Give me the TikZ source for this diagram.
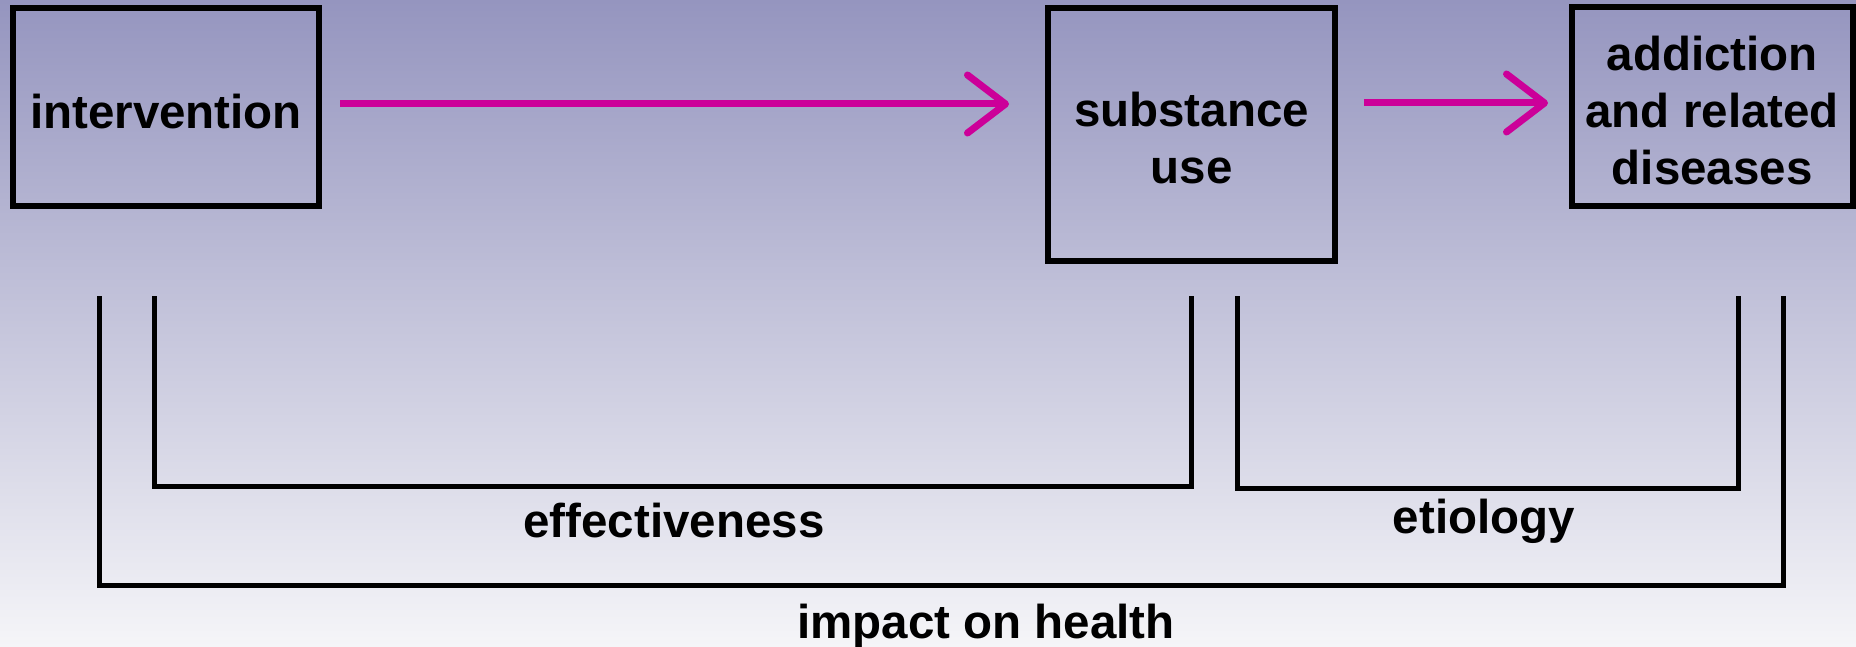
\documentclass[tikz,border=0pt]{standalone}
\usepackage{fontspec}
\setmainfont{Liberation Sans}
\usetikzlibrary{arrows.meta}
\definecolor{bgtop}{RGB}{149,149,191}
\definecolor{bgmid}{RGB}{212,212,229}
\definecolor{bgbot}{RGB}{245,245,248}
\definecolor{arrowmag}{RGB}{204,0,153}
\newcommand\firstlinefix{\rule{0pt}{42pt}}
\begin{document}
\begin{tikzpicture}[x=1pt,y=-1pt,
  txt/.style={font=\bfseries\fontsize{47.5}{57}\selectfont},
  box/.style={txt, draw=black, line width=6pt, align=center, inner sep=0pt},
  lbl/.style={txt, anchor=base, inner sep=0pt},
  flow/.style={draw=arrowmag, line width=7pt, -{Straight Barb[length=38pt,width=58pt,round]}},
  brk/.style={draw=black, line width=5pt, line join=miter}]
\useasboundingbox (0,0) rectangle (1856,647);
\shade[top color=bgtop, middle color=bgmid, bottom color=bgbot] (0,0) rectangle (1856,647);
% boxes
\node[box, minimum width=306pt, minimum height=198.5pt] (interv) at (166,107.25) {\firstlinefix intervention};
\node[box, minimum width=287pt, minimum height=253pt] (subst) at (1191.5,134.5) {\firstlinefix substance\\use};
\node[box, minimum width=280.5pt, minimum height=199pt] (addict) at (1712.25,107) {\firstlinefix addiction\\and related\\diseases};
% arrows
\draw[flow, shorten <=18pt, shorten >=36pt] ([yshift=3.25pt]interv.east) -- ([yshift=30.5pt]subst.west);
\draw[flow, shorten <=26pt, shorten >=21pt] ([yshift=31.5pt]subst.east) -- ([yshift=4pt]addict.west);
% brackets
\coordinate (effL) at (154,296);
\coordinate (effR) at (1191,296);
\coordinate (etiL) at (1237,296);
\coordinate (etiR) at (1738,296);
\coordinate (impL) at (99.5,296);
\coordinate (impR) at (1783,296);
\draw[brk] (effL) -- ++(0,190) -| (effR);
\draw[brk] (etiL) -- ++(0,192) -| (etiR);
\draw[brk] (impL) -- ++(0,289) -| (impR);
% labels
\node[lbl] (eff) at (674,537) {effectiveness};
\node[lbl] (eti) at (1484,533) {etiology};
\node[lbl] (imp) at (986,638) {impact on health};
\end{tikzpicture}
\end{document}
